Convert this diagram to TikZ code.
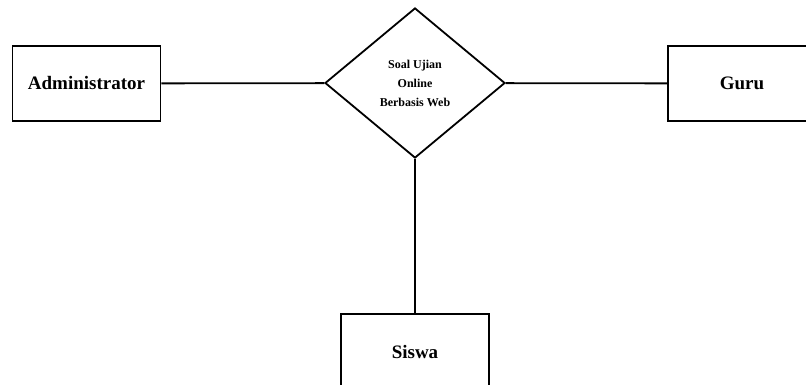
\documentclass[tikz,border=0pt]{standalone}
\usepackage{fontspec}
\setmainfont{Liberation Serif}
\usetikzlibrary{shapes.geometric, positioning}

\begin{document}
\begin{tikzpicture}[x=1pt, y=-1pt,
        entity/.style={draw, line width=1.8pt, rectangle, minimum width=148pt, minimum height=75pt, font=\fontsize{19}{21}\selectfont\bfseries},
        sistem/.style={draw, line width=1.8pt, diamond, minimum width=180pt, minimum height=150pt, inner sep=0pt, align=center, font=\fontsize{12}{19}\selectfont\bfseries}]
            \useasboundingbox (0,0) rectangle (806,385);
            \clip (0,0) rectangle (806,385);
            \node[sistem] (soal) at (415,83) {Soal Ujian\\Online\\Berbasis Web};
            \node[entity] (admin) at (86.5,83.5) {Administrator};
            \node[entity] (guru) at (742,83.5) {Guru};
            \node[entity] (siswa) at (415,351.5) {Siswa};
            \draw[line width=1.8pt] (admin) -- (soal);
            \draw[line width=1.8pt] (soal) -- (guru);
            \draw[line width=1.8pt] (soal) -- (siswa);
        \end{tikzpicture}
\end{document}
